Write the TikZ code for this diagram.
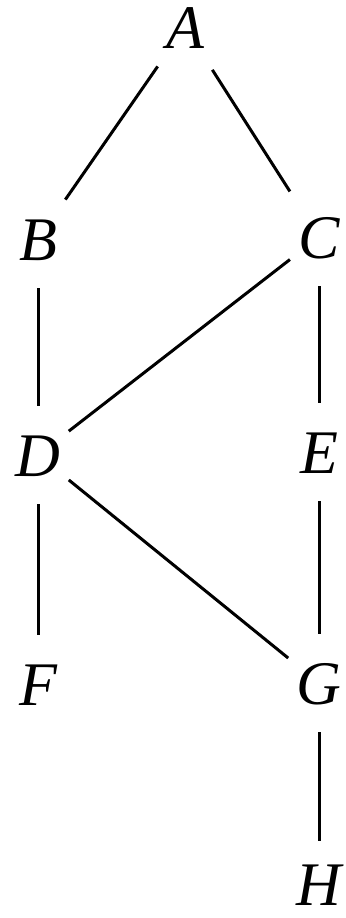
\documentclass[tikz,border=0pt]{standalone}
\usepackage{fontspec}
\setmainfont{Liberation Serif}
\usepackage{tikz}
\usetikzlibrary{positioning}
\tikzset{>=stealth}
\tikzset{vert/.style={font=\fontsize{31}{37}\selectfont\itshape, inner xsep=4pt, inner ysep=14pt, text height=21pt, text depth=0pt},
         link/.style={line width=1.5pt}}

\begin{document}
\begin{tikzpicture}[x=0.5pt,y=-0.5pt]
        \useasboundingbox (0,0) rectangle (346,918);
        % vertices
        \node[vert] (a) at (185,27) {A};
        \node[vert] (b) at (38,239) {B};
        \node[vert] (c) at (319,237) {C};
        \node[vert] (d) at (38,455) {D};
        \node[vert] (e) at (319,452) {E};
        \node[vert] (f) at (38,684) {F};
        \node[vert] (g) at (319,683) {G};
        \node[vert,inner ysep=4pt] (h) at (319,884) {H};
        % edges
        \draw[link] (a) -- (b);
        \draw[link] (a) -- (c);
        \draw[link] (b) -- (d);
        \draw[link] (c) -- (d);
        \draw[link] (c) -- (e);
        \draw[link] (d) -- (f);
        \draw[link] (d) -- (g);
        \draw[link] (e) -- (g);
        \draw[link,shorten >=7pt] (g) -- (h);
      \end{tikzpicture}
\end{document}
